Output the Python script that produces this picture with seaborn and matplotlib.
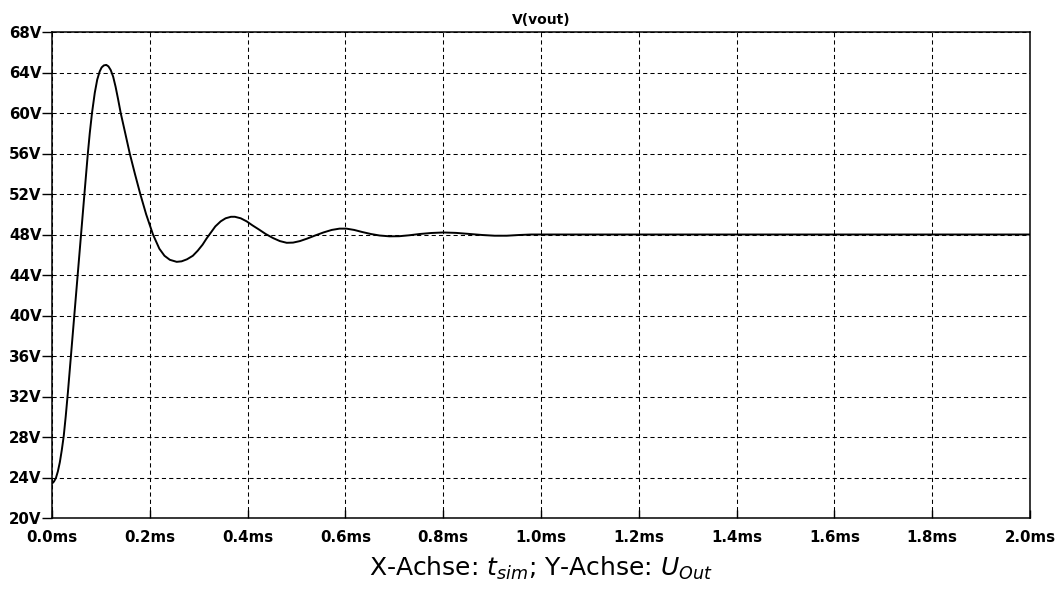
import numpy as np
import pandas as pd
import matplotlib
matplotlib.use("Agg")
import matplotlib.pyplot as plt
import seaborn as sns

# Transient simulation result: output voltage over time
time_ms = [
    0.000, 0.004, 0.008, 0.012, 0.016, 0.020, 0.024, 0.028, 0.0325,
    0.0387, 0.0456, 0.0525, 0.0594, 0.0663, 0.0733, 0.0772, 0.0818,
    0.0875, 0.0925, 0.0975, 0.1015, 0.106, 0.111, 0.1155, 0.120, 0.125,
    0.130, 0.135, 0.1405, 0.1498, 0.159, 0.1695, 0.1805, 0.1925, 0.2065,
    0.2195, 0.230, 0.241, 0.255, 0.265, 0.276, 0.288, 0.298, 0.308,
    0.316, 0.325, 0.334, 0.345, 0.355, 0.366, 0.374, 0.386, 0.398,
    0.410, 0.423, 0.437, 0.452, 0.466, 0.480, 0.493, 0.507, 0.522,
    0.538, 0.555, 0.572, 0.588, 0.602, 0.618, 0.634, 0.652, 0.670,
    0.690, 0.710, 0.730, 0.752, 0.776, 0.800, 0.826, 0.852, 0.880,
    0.905, 0.930, 0.955, 0.980, 1.200, 1.500, 2.000,
]
v_out = [
    23.4, 23.6, 23.95, 24.6, 25.5, 26.7, 28.1, 30.0, 32.4,
    36.0, 40.0, 44.0, 48.0, 52.0, 56.0, 58.0, 60.0,
    62.0, 63.3, 64.1, 64.5, 64.7, 64.75, 64.6, 64.25, 63.6,
    62.6, 61.4, 60.0, 58.0, 56.0, 54.0, 52.0, 50.0, 48.0,
    46.6, 45.9, 45.5, 45.3, 45.35, 45.55, 45.9, 46.4, 47.0,
    47.6, 48.2, 48.8, 49.3, 49.6, 49.75, 49.75, 49.6, 49.3,
    48.9, 48.5, 48.05, 47.65, 47.35, 47.18, 47.2, 47.35, 47.6,
    47.9, 48.2, 48.45, 48.58, 48.58, 48.45, 48.25, 48.05, 47.9,
    47.82, 47.83, 47.92, 48.05, 48.15, 48.2, 48.16, 48.06, 47.95,
    47.88, 47.88, 47.95, 48.0, 48.0, 48.0, 48.0,
]

x_ticks = [0.0, 0.2, 0.4, 0.6, 0.8, 1.0, 1.2, 1.4, 1.6, 1.8, 2.0]
x_labels = ["0.0ms", "0.2ms", "0.4ms", "0.6ms", "0.8ms", "1.0ms",
            "1.2ms", "1.4ms", "1.6ms", "1.8ms", "2.0ms"]
y_ticks = [20, 24, 28, 32, 36, 40, 44, 48, 52, 56, 60, 64, 68]
y_labels = ["20V", "24V", "28V", "32V", "36V", "40V", "44V", "48V",
            "52V", "56V", "60V", "64V", "68V"]

trace_name = "V(vout)"
caption = r"X-Achse: $t_{sim}$; Y-Achse: $U_{Out}$"

sns.set_style("white")
plt.rcParams["font.family"] = ["DejaVu Sans"]
plt.rcParams["mathtext.fontset"] = "dejavusans"
plt.rcParams["text.color"] = "black"
plt.rcParams["axes.titlecolor"] = "black"
plt.rcParams["xtick.color"] = "black"
plt.rcParams["ytick.color"] = "black"

df = pd.DataFrame({"t": time_ms, "v": v_out})

fig = plt.figure(figsize=(10.59, 5.99), dpi=100)
W, H = 1059, 599
ax = fig.add_axes([52 / W, 1 - 518 / H, 978 / W, 486 / H])

sns.lineplot(data=df, x="t", y="v", ax=ax, color="black", linewidth=1.4,
             sort=False, estimator=None)

ax.set_xlim(0, 2.0)
ax.set_ylim(20, 68)
ax.set_xticks(x_ticks)
ax.set_xticklabels(x_labels)
ax.set_yticks(y_ticks)
ax.set_yticklabels(y_labels)
ax.set_xlabel("")
ax.set_ylabel("")

ax.set_axisbelow(True)
ax.grid(True, color="black", linestyle=(0, (4, 3)), linewidth=0.75)

for side in ["left", "right", "top", "bottom"]:
    ax.spines[side].set_visible(True)
    ax.spines[side].set_color("black")
    ax.spines[side].set_linewidth(1.1)

ax.tick_params(axis="y", direction="out", length=7, width=1.0,
               pad=0.5, labelsize=10.8, colors="black", left=True)
ax.tick_params(axis="x", direction="in", length=6, width=1.0,
               pad=9, labelsize=10.8, colors="black", bottom=True)
for lab in ax.get_xticklabels() + ax.get_yticklabels():
    lab.set_fontweight("bold")
    lab.set_color("black")

ax.set_title(trace_name, fontsize=10, fontweight="bold", pad=5.5,
             color="black")

fig.text((52 + 1030) / 2 / W, 1 - 576 / H, caption, ha="center",
         va="baseline", fontsize=18, color="black",
         family=["DejaVu Sans"])

fig.savefig("out.png", dpi=100, facecolor="white")
